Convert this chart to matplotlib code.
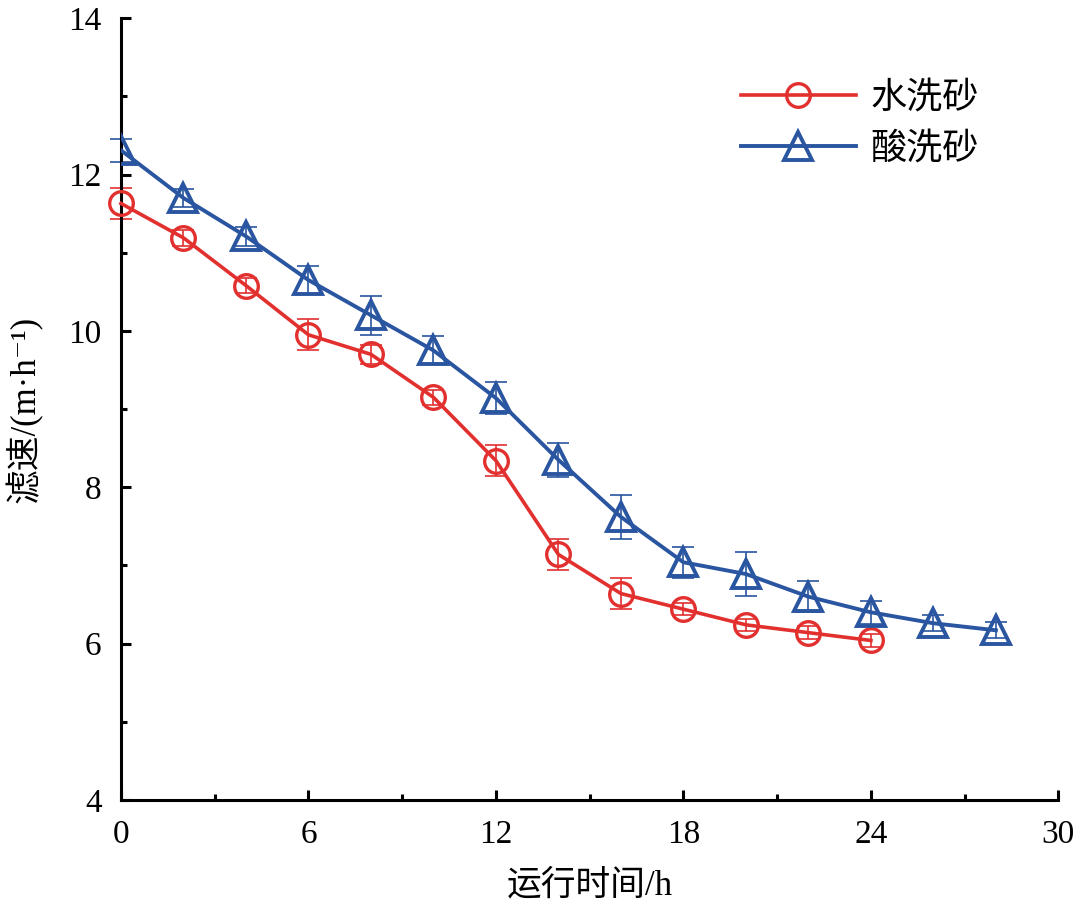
import matplotlib
matplotlib.use('Agg')
import matplotlib.pyplot as plt

plt.rcParams['font.family'] = ['Liberation Serif', 'Noto Sans CJK SC', 'DejaVu Serif']

time_water = [0, 2, 4, 6, 8, 10, 12, 14, 16, 18, 20, 22, 24]
rate_water = [11.63, 11.19, 10.58, 9.95, 9.70, 9.15, 8.34, 7.14, 6.64, 6.44, 6.24, 6.14, 6.04]
err_water = [0.2, 0.1, 0.1, 0.2, 0.12, 0.1, 0.2, 0.2, 0.2, 0.08, 0.08, 0.08, 0.08]

time_acid = [0, 2, 4, 6, 8, 10, 12, 14, 16, 18, 20, 22, 24, 26, 28]
rate_acid = [12.31, 11.70, 11.21, 10.65, 10.20, 9.75, 9.14, 8.35, 7.62, 7.04, 6.89, 6.60, 6.40, 6.26, 6.17]
err_acid = [0.15, 0.12, 0.12, 0.18, 0.25, 0.18, 0.2, 0.22, 0.28, 0.2, 0.28, 0.2, 0.15, 0.1, 0.1]

red = '#E2302F'
blue = '#2A55A0'

fig = plt.figure(figsize=(10.8, 9.08), dpi=100)
ax = fig.add_axes([0.112, 0.119, 0.868, 0.861])

ax.errorbar(time_water, rate_water, yerr=err_water, fmt='none', ecolor=red,
            elinewidth=1.2, capsize=8, capthick=1.2, zorder=2, clip_on=False)
ax.errorbar(time_acid, rate_acid, yerr=err_acid, fmt='none', ecolor=blue,
            elinewidth=1.2, capsize=8, capthick=1.2, zorder=2, clip_on=False)
ax.plot(time_water, rate_water, color=red, lw=2.6, marker='o', ms=17,
        mfc='none', mew=2.4, label='水洗砂', zorder=3, clip_on=False)
ax.plot(time_acid, rate_acid, color=blue, lw=2.8, marker='^', ms=20,
        mfc='none', mew=2.8, label='酸洗砂', zorder=3)

ax.set_xlim(0, 30)
ax.set_ylim(4, 14)
ax.set_xticks([0, 6, 12, 18, 24, 30])
ax.set_xticks([3, 9, 15, 21, 27], minor=True)
ax.set_yticks([4, 6, 8, 10, 12, 14])
ax.set_yticks([5, 7, 9, 11, 13], minor=True)
ax.spines['top'].set_visible(False)
ax.spines['right'].set_visible(False)
for s in ['left', 'bottom']:
    ax.spines[s].set_linewidth(2.2)
ax.tick_params(which='major', direction='in', length=7, width=2.2, labelsize=24, pad=14)
ax.tick_params(which='minor', direction='in', length=4, width=2.2)

ax.set_xlabel('运行时间/h', fontsize=25, labelpad=14)
ax.set_ylabel('滤速/(m·h⁻¹)', fontsize=25, labelpad=18)

ax.legend(loc='upper right', bbox_to_anchor=(0.95, 0.96), frameon=False,
          fontsize=26, handlelength=3.2, handletextpad=0.4, labelspacing=0.45)

fig.savefig('out.png', dpi=100)
